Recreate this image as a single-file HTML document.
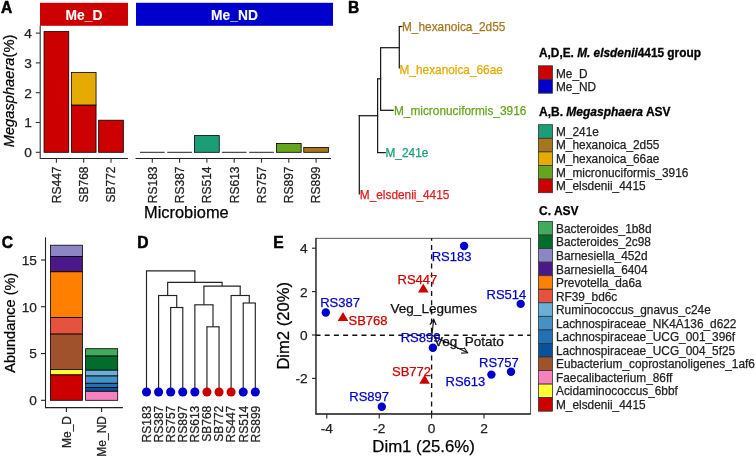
<!DOCTYPE html><html><head><meta charset="utf-8"><style>
html,body{margin:0;padding:0;background:#fff;width:756px;height:457px;overflow:hidden}
svg{display:block;will-change:transform}
text{font-family:"Liberation Sans",Arial,sans-serif;}
.b{font-weight:bold}
</style></head><body>
<svg width="756" height="457" viewBox="0 0 756 457">
<text x="1.00" y="12.80" font-size="15.6" fill="#000" stroke="#000" stroke-width="0.5" text-anchor="start" class="b" >A</text>
<rect x="40.00" y="2.80" width="88.00" height="23.00" fill="#CD0000" stroke="none" stroke-width="0.8"/>
<rect x="136.00" y="2.80" width="197.00" height="23.00" fill="#0000CD" stroke="none" stroke-width="0.8"/>
<text x="84.00" y="19.90" font-size="13.8" fill="#fff" stroke="#fff" stroke-width="0.1" text-anchor="middle" class="b" >Me_D</text>
<text x="234.50" y="19.90" font-size="13.8" fill="#fff" stroke="#fff" stroke-width="0.1" text-anchor="middle" class="b" >Me_ND</text>
<line x1="40.20" y1="25.50" x2="40.20" y2="159.00" stroke="#333333" stroke-width="1.1" />
<line x1="40.20" y1="158.50" x2="128.00" y2="158.50" stroke="#222" stroke-width="1.1" />
<line x1="135.50" y1="158.50" x2="331.00" y2="158.50" stroke="#222" stroke-width="1.1" />
<line x1="35.80" y1="152.30" x2="40.20" y2="152.30" stroke="#333333" stroke-width="1.1" />
<text x="31.80" y="157.20" font-size="13.7" fill="#222" stroke="#222" stroke-width="0.25" text-anchor="end" >0</text>
<line x1="35.80" y1="122.50" x2="40.20" y2="122.50" stroke="#333333" stroke-width="1.1" />
<text x="31.80" y="127.40" font-size="13.7" fill="#222" stroke="#222" stroke-width="0.25" text-anchor="end" >1</text>
<line x1="35.80" y1="92.70" x2="40.20" y2="92.70" stroke="#333333" stroke-width="1.1" />
<text x="31.80" y="97.60" font-size="13.7" fill="#222" stroke="#222" stroke-width="0.25" text-anchor="end" >2</text>
<line x1="35.80" y1="62.90" x2="40.20" y2="62.90" stroke="#333333" stroke-width="1.1" />
<text x="31.80" y="67.80" font-size="13.7" fill="#222" stroke="#222" stroke-width="0.25" text-anchor="end" >3</text>
<line x1="35.80" y1="33.10" x2="40.20" y2="33.10" stroke="#333333" stroke-width="1.1" />
<text x="31.80" y="38.00" font-size="13.7" fill="#222" stroke="#222" stroke-width="0.25" text-anchor="end" >4</text>
<rect x="44.05" y="31.60" width="24.70" height="120.70" fill="#CD0000" stroke="#000" stroke-width="0.8"/>
<rect x="71.35" y="105.00" width="24.70" height="47.30" fill="#CD0000" stroke="#000" stroke-width="0.8"/>
<rect x="71.35" y="72.40" width="24.70" height="32.60" fill="#E6AB02" stroke="#000" stroke-width="0.8"/>
<rect x="98.65" y="120.20" width="24.70" height="32.10" fill="#CD0000" stroke="#000" stroke-width="0.8"/>
<line x1="139.95" y1="152.30" x2="164.65" y2="152.30" stroke="#222" stroke-width="1" />
<line x1="167.25" y1="152.30" x2="191.95" y2="152.30" stroke="#222" stroke-width="1" />
<rect x="194.55" y="135.60" width="24.70" height="16.70" fill="#1B9E77" stroke="#000" stroke-width="0.8"/>
<line x1="221.85" y1="152.30" x2="246.55" y2="152.30" stroke="#222" stroke-width="1" />
<line x1="249.15" y1="152.30" x2="273.85" y2="152.30" stroke="#222" stroke-width="1" />
<rect x="276.45" y="143.40" width="24.70" height="8.90" fill="#66A61E" stroke="#000" stroke-width="0.8"/>
<rect x="303.75" y="147.40" width="24.70" height="4.90" fill="#A6761D" stroke="#000" stroke-width="0.8"/>
<line x1="56.40" y1="158.50" x2="56.40" y2="162.70" stroke="#333333" stroke-width="1.1" />
<text x="60.70" y="166.50" font-size="12" fill="#222" stroke="#222" stroke-width="0.25" text-anchor="end" transform="rotate(-90 60.70 166.50)">RS447</text>
<line x1="83.70" y1="158.50" x2="83.70" y2="162.70" stroke="#333333" stroke-width="1.1" />
<text x="88.00" y="166.50" font-size="12" fill="#222" stroke="#222" stroke-width="0.25" text-anchor="end" transform="rotate(-90 88.00 166.50)">SB768</text>
<line x1="111.00" y1="158.50" x2="111.00" y2="162.70" stroke="#333333" stroke-width="1.1" />
<text x="115.30" y="166.50" font-size="12" fill="#222" stroke="#222" stroke-width="0.25" text-anchor="end" transform="rotate(-90 115.30 166.50)">SB772</text>
<line x1="152.30" y1="158.50" x2="152.30" y2="162.70" stroke="#333333" stroke-width="1.1" />
<text x="156.60" y="166.50" font-size="12" fill="#222" stroke="#222" stroke-width="0.25" text-anchor="end" transform="rotate(-90 156.60 166.50)">RS183</text>
<line x1="179.60" y1="158.50" x2="179.60" y2="162.70" stroke="#333333" stroke-width="1.1" />
<text x="183.90" y="166.50" font-size="12" fill="#222" stroke="#222" stroke-width="0.25" text-anchor="end" transform="rotate(-90 183.90 166.50)">RS387</text>
<line x1="206.90" y1="158.50" x2="206.90" y2="162.70" stroke="#333333" stroke-width="1.1" />
<text x="211.20" y="166.50" font-size="12" fill="#222" stroke="#222" stroke-width="0.25" text-anchor="end" transform="rotate(-90 211.20 166.50)">RS514</text>
<line x1="234.20" y1="158.50" x2="234.20" y2="162.70" stroke="#333333" stroke-width="1.1" />
<text x="238.50" y="166.50" font-size="12" fill="#222" stroke="#222" stroke-width="0.25" text-anchor="end" transform="rotate(-90 238.50 166.50)">RS613</text>
<line x1="261.50" y1="158.50" x2="261.50" y2="162.70" stroke="#333333" stroke-width="1.1" />
<text x="265.80" y="166.50" font-size="12" fill="#222" stroke="#222" stroke-width="0.25" text-anchor="end" transform="rotate(-90 265.80 166.50)">RS757</text>
<line x1="288.80" y1="158.50" x2="288.80" y2="162.70" stroke="#333333" stroke-width="1.1" />
<text x="293.10" y="166.50" font-size="12" fill="#222" stroke="#222" stroke-width="0.25" text-anchor="end" transform="rotate(-90 293.10 166.50)">RS897</text>
<line x1="316.10" y1="158.50" x2="316.10" y2="162.70" stroke="#333333" stroke-width="1.1" />
<text x="320.40" y="166.50" font-size="12" fill="#222" stroke="#222" stroke-width="0.25" text-anchor="end" transform="rotate(-90 320.40 166.50)">RS899</text>
<text x="186.40" y="218.20" font-size="16.4" fill="#000" stroke="#000" stroke-width="0.25" text-anchor="middle" >Microbiome</text>
<text x="14.2" y="91" font-size="14.7" fill="#000" stroke="#000" stroke-width="0.25" text-anchor="middle" transform="rotate(-90 14.2 91)"><tspan font-style="italic">Megasphaera</tspan><tspan>(%)</tspan></text>
<text x="348.00" y="13.00" font-size="15.6" fill="#000" stroke="#000" stroke-width="0.5" text-anchor="start" class="b" >B</text>
<line x1="399.30" y1="26.30" x2="399.30" y2="68.50" stroke="#1a1a1a" stroke-width="1.25" />
<line x1="398.70" y1="26.50" x2="402.50" y2="26.50" stroke="#1a1a1a" stroke-width="1.25" />
<line x1="380.60" y1="47.70" x2="399.90" y2="47.70" stroke="#1a1a1a" stroke-width="1.25" />
<line x1="380.60" y1="47.10" x2="380.60" y2="110.30" stroke="#1a1a1a" stroke-width="1.25" />
<line x1="380.00" y1="110.30" x2="393.80" y2="110.30" stroke="#1a1a1a" stroke-width="1.25" />
<line x1="377.60" y1="78.80" x2="381.20" y2="78.80" stroke="#1a1a1a" stroke-width="1.25" />
<line x1="377.60" y1="78.20" x2="377.60" y2="152.60" stroke="#1a1a1a" stroke-width="1.25" />
<line x1="377.00" y1="152.60" x2="385.80" y2="152.60" stroke="#1a1a1a" stroke-width="1.25" />
<line x1="358.70" y1="115.70" x2="378.20" y2="115.70" stroke="#1a1a1a" stroke-width="1.25" />
<line x1="359.30" y1="115.10" x2="359.30" y2="194.50" stroke="#1a1a1a" stroke-width="1.25" />
<text x="402.00" y="30.60" font-size="11.85" fill="#A6761D" stroke="#A6761D" stroke-width="0.25" text-anchor="start" >M_hexanoica_2d55</text>
<text x="399.50" y="73.50" font-size="11.85" fill="#E6AB02" stroke="#E6AB02" stroke-width="0.25" text-anchor="start" >M_hexanoica_66ae</text>
<text x="394.00" y="114.90" font-size="11.85" fill="#66A61E" stroke="#66A61E" stroke-width="0.25" text-anchor="start" >M_micronuciformis_3916</text>
<text x="385.50" y="157.20" font-size="11.85" fill="#1B9E77" stroke="#1B9E77" stroke-width="0.25" text-anchor="start" >M_241e</text>
<text x="359.80" y="199.30" font-size="11.85" fill="#E31A1C" stroke="#E31A1C" stroke-width="0.25" text-anchor="start" >M_elsdenii_4415</text>
<text x="539" y="57.4" font-size="11.85" font-weight="bold" fill="#000" stroke="#000" stroke-width="0.3">A,D,E. <tspan font-style="italic">M. elsdenii</tspan>4415 group</text>
<rect x="538.50" y="65.80" width="14.00" height="13.60" fill="#CD0000" stroke="#333" stroke-width="0.8"/>
<rect x="538.50" y="79.40" width="14.00" height="13.80" fill="#0000CD" stroke="#333" stroke-width="0.8"/>
<text x="556.00" y="77.60" font-size="11.85" fill="#222" stroke="#222" stroke-width="0.25" text-anchor="start" >Me_D</text>
<text x="556.00" y="91.00" font-size="11.85" fill="#222" stroke="#222" stroke-width="0.25" text-anchor="start" >Me_ND</text>
<text x="539" y="115.7" font-size="12" font-weight="bold" fill="#000" stroke="#000" stroke-width="0.3">A,B. <tspan font-style="italic">Megasphaera</tspan> ASV</text>
<rect x="538.50" y="124.70" width="14.00" height="13.60" fill="#1B9E77" stroke="#333" stroke-width="0.8"/>
<text x="556.00" y="135.80" font-size="11.85" fill="#222" stroke="#222" stroke-width="0.25" text-anchor="start" >M_241e</text>
<rect x="538.50" y="138.30" width="14.00" height="13.60" fill="#A6761D" stroke="#333" stroke-width="0.8"/>
<text x="556.00" y="149.40" font-size="11.85" fill="#222" stroke="#222" stroke-width="0.25" text-anchor="start" >M_hexanoica_2d55</text>
<rect x="538.50" y="151.90" width="14.00" height="13.60" fill="#E6AB02" stroke="#333" stroke-width="0.8"/>
<text x="556.00" y="163.00" font-size="11.85" fill="#222" stroke="#222" stroke-width="0.25" text-anchor="start" >M_hexanoica_66ae</text>
<rect x="538.50" y="165.50" width="14.00" height="13.60" fill="#66A61E" stroke="#333" stroke-width="0.8"/>
<text x="556.00" y="176.60" font-size="11.85" fill="#222" stroke="#222" stroke-width="0.25" text-anchor="start" >M_micronuciformis_3916</text>
<rect x="538.50" y="179.10" width="14.00" height="13.60" fill="#CD0000" stroke="#333" stroke-width="0.8"/>
<text x="556.00" y="190.20" font-size="11.85" fill="#222" stroke="#222" stroke-width="0.25" text-anchor="start" >M_elsdenii_4415</text>
<text x="539.00" y="215.00" font-size="12" fill="#000" stroke="#000" stroke-width="0.25" text-anchor="start" class="b" >C. ASV</text>
<rect x="538.50" y="221.50" width="14.00" height="13.55" fill="#41AB5D" stroke="#333" stroke-width="0.8"/>
<text x="556.00" y="232.88" font-size="11.85" fill="#222" stroke="#222" stroke-width="0.25" text-anchor="start" >Bacteroides_1b8d</text>
<rect x="538.50" y="235.05" width="14.00" height="13.55" fill="#006D2C" stroke="#333" stroke-width="0.8"/>
<text x="556.00" y="246.43" font-size="11.85" fill="#222" stroke="#222" stroke-width="0.25" text-anchor="start" >Bacteroides_2c98</text>
<rect x="538.50" y="248.60" width="14.00" height="13.55" fill="#8C87C4" stroke="#333" stroke-width="0.8"/>
<text x="556.00" y="259.98" font-size="11.85" fill="#222" stroke="#222" stroke-width="0.25" text-anchor="start" >Barnesiella_452d</text>
<rect x="538.50" y="262.15" width="14.00" height="13.55" fill="#4A1889" stroke="#333" stroke-width="0.8"/>
<text x="556.00" y="273.53" font-size="11.85" fill="#222" stroke="#222" stroke-width="0.25" text-anchor="start" >Barnesiella_6404</text>
<rect x="538.50" y="275.70" width="14.00" height="13.55" fill="#FF7F00" stroke="#333" stroke-width="0.8"/>
<text x="556.00" y="287.08" font-size="11.85" fill="#222" stroke="#222" stroke-width="0.25" text-anchor="start" >Prevotella_da6a</text>
<rect x="538.50" y="289.25" width="14.00" height="13.55" fill="#E5533F" stroke="#333" stroke-width="0.8"/>
<text x="556.00" y="300.63" font-size="11.85" fill="#222" stroke="#222" stroke-width="0.25" text-anchor="start" >RF39_bd6c</text>
<rect x="538.50" y="302.80" width="14.00" height="13.55" fill="#6BAED6" stroke="#333" stroke-width="0.8"/>
<text x="556.00" y="314.18" font-size="11.85" fill="#222" stroke="#222" stroke-width="0.25" text-anchor="start" >Ruminococcus_gnavus_c24e</text>
<rect x="538.50" y="316.35" width="14.00" height="13.55" fill="#4292C6" stroke="#333" stroke-width="0.8"/>
<text x="556.00" y="327.73" font-size="11.85" fill="#222" stroke="#222" stroke-width="0.25" text-anchor="start" >Lachnospiraceae_NK4A136_d622</text>
<rect x="538.50" y="329.90" width="14.00" height="13.55" fill="#2171B5" stroke="#333" stroke-width="0.8"/>
<text x="556.00" y="341.28" font-size="11.85" fill="#222" stroke="#222" stroke-width="0.25" text-anchor="start" >Lachnospiraceae_UCG_001_396f</text>
<rect x="538.50" y="343.45" width="14.00" height="13.55" fill="#08519C" stroke="#333" stroke-width="0.8"/>
<text x="556.00" y="354.83" font-size="11.85" fill="#222" stroke="#222" stroke-width="0.25" text-anchor="start" >Lachnospiraceae_UCG_004_5f25</text>
<rect x="538.50" y="357.00" width="14.00" height="13.55" fill="#A0522D" stroke="#333" stroke-width="0.8"/>
<text x="556.00" y="368.38" font-size="11.85" fill="#222" stroke="#222" stroke-width="0.25" text-anchor="start" >Eubacterium_coprostanoligenes_1af6</text>
<rect x="538.50" y="370.55" width="14.00" height="13.55" fill="#F781BF" stroke="#333" stroke-width="0.8"/>
<text x="556.00" y="381.93" font-size="11.85" fill="#222" stroke="#222" stroke-width="0.25" text-anchor="start" >Faecalibacterium_86ff</text>
<rect x="538.50" y="384.10" width="14.00" height="13.55" fill="#FFFF33" stroke="#333" stroke-width="0.8"/>
<text x="556.00" y="395.48" font-size="11.85" fill="#222" stroke="#222" stroke-width="0.25" text-anchor="start" >Acidaminococcus_6bbf</text>
<rect x="538.50" y="397.65" width="14.00" height="13.55" fill="#CD0000" stroke="#333" stroke-width="0.8"/>
<text x="556.00" y="409.03" font-size="11.85" fill="#222" stroke="#222" stroke-width="0.25" text-anchor="start" >M_elsdenii_4415</text>
<text x="1.80" y="248.10" font-size="15.6" fill="#000" stroke="#000" stroke-width="0.5" text-anchor="start" class="b" >C</text>
<line x1="45.50" y1="237.30" x2="45.50" y2="408.10" stroke="#222" stroke-width="1.1" />
<line x1="45.00" y1="407.60" x2="122.90" y2="407.60" stroke="#222" stroke-width="1.1" />
<line x1="41.00" y1="400.30" x2="45.50" y2="400.30" stroke="#222" stroke-width="1.1" />
<text x="36.90" y="405.20" font-size="13.7" fill="#222" stroke="#222" stroke-width="0.25" text-anchor="end" >0</text>
<line x1="41.00" y1="353.54" x2="45.50" y2="353.54" stroke="#222" stroke-width="1.1" />
<text x="36.90" y="358.44" font-size="13.7" fill="#222" stroke="#222" stroke-width="0.25" text-anchor="end" >5</text>
<line x1="41.00" y1="306.77" x2="45.50" y2="306.77" stroke="#222" stroke-width="1.1" />
<text x="36.90" y="311.67" font-size="13.7" fill="#222" stroke="#222" stroke-width="0.25" text-anchor="end" >10</text>
<line x1="41.00" y1="260.00" x2="45.50" y2="260.00" stroke="#222" stroke-width="1.1" />
<text x="36.90" y="264.90" font-size="13.7" fill="#222" stroke="#222" stroke-width="0.25" text-anchor="end" >15</text>
<rect x="50.50" y="245.20" width="31.90" height="11.30" fill="#8C87C4" stroke="#000" stroke-width="0.8"/>
<rect x="50.50" y="256.50" width="31.90" height="15.30" fill="#4A1889" stroke="#000" stroke-width="0.8"/>
<rect x="50.50" y="271.80" width="31.90" height="45.70" fill="#FF7F00" stroke="#000" stroke-width="0.8"/>
<rect x="50.50" y="317.50" width="31.90" height="16.60" fill="#E5533F" stroke="#000" stroke-width="0.8"/>
<rect x="50.50" y="334.10" width="31.90" height="35.40" fill="#A0522D" stroke="#000" stroke-width="0.8"/>
<rect x="50.50" y="369.50" width="31.90" height="5.40" fill="#FFFF33" stroke="#000" stroke-width="0.8"/>
<rect x="50.50" y="374.90" width="31.90" height="25.40" fill="#CD0000" stroke="#000" stroke-width="0.8"/>
<rect x="85.60" y="348.70" width="32.10" height="7.40" fill="#41AB5D" stroke="#000" stroke-width="0.8"/>
<rect x="85.60" y="356.10" width="32.10" height="14.10" fill="#006D2C" stroke="#000" stroke-width="0.8"/>
<rect x="85.60" y="370.20" width="32.10" height="5.80" fill="#6BAED6" stroke="#000" stroke-width="0.8"/>
<rect x="85.60" y="376.00" width="32.10" height="7.30" fill="#4292C6" stroke="#000" stroke-width="0.8"/>
<rect x="85.60" y="383.30" width="32.10" height="4.20" fill="#2171B5" stroke="#000" stroke-width="0.8"/>
<rect x="85.60" y="387.50" width="32.10" height="3.80" fill="#08519C" stroke="#000" stroke-width="0.8"/>
<rect x="85.60" y="391.30" width="32.10" height="9.00" fill="#F781BF" stroke="#000" stroke-width="0.8"/>
<line x1="66.40" y1="407.60" x2="66.40" y2="412.00" stroke="#222" stroke-width="1.1" />
<text x="70.70" y="416.00" font-size="12" fill="#222" stroke="#222" stroke-width="0.25" text-anchor="end" transform="rotate(-90 70.70 416.00)">Me_D</text>
<line x1="101.60" y1="407.60" x2="101.60" y2="412.00" stroke="#222" stroke-width="1.1" />
<text x="105.90" y="416.00" font-size="12" fill="#222" stroke="#222" stroke-width="0.25" text-anchor="end" transform="rotate(-90 105.90 416.00)">Me_ND</text>
<text x="15.5" y="322.8" font-size="14.5" fill="#000" stroke="#000" stroke-width="0.25" text-anchor="middle" transform="rotate(-90 15.5 322.8)">Abundance (%)</text>
<text x="137.20" y="247.80" font-size="15.6" fill="#000" stroke="#000" stroke-width="0.5" text-anchor="start" class="b" >D</text>
<line x1="206.95" y1="392.00" x2="206.95" y2="326.80" stroke="#222" stroke-width="1.15" />
<line x1="219.04" y1="392.00" x2="219.04" y2="326.80" stroke="#222" stroke-width="1.15" />
<line x1="206.45" y1="326.80" x2="219.54" y2="326.80" stroke="#222" stroke-width="1.15" />
<line x1="194.86" y1="392.00" x2="194.86" y2="304.80" stroke="#222" stroke-width="1.15" />
<line x1="213.00" y1="326.80" x2="213.00" y2="304.80" stroke="#222" stroke-width="1.15" />
<line x1="194.36" y1="304.80" x2="213.50" y2="304.80" stroke="#222" stroke-width="1.15" />
<line x1="243.22" y1="392.00" x2="243.22" y2="303.00" stroke="#222" stroke-width="1.15" />
<line x1="255.31" y1="392.00" x2="255.31" y2="303.00" stroke="#222" stroke-width="1.15" />
<line x1="242.72" y1="303.00" x2="255.81" y2="303.00" stroke="#222" stroke-width="1.15" />
<line x1="231.13" y1="392.00" x2="231.13" y2="295.50" stroke="#222" stroke-width="1.15" />
<line x1="249.26" y1="303.00" x2="249.26" y2="295.50" stroke="#222" stroke-width="1.15" />
<line x1="230.63" y1="295.50" x2="249.76" y2="295.50" stroke="#222" stroke-width="1.15" />
<line x1="203.93" y1="304.80" x2="203.93" y2="286.10" stroke="#222" stroke-width="1.15" />
<line x1="240.20" y1="295.50" x2="240.20" y2="286.10" stroke="#222" stroke-width="1.15" />
<line x1="203.43" y1="286.10" x2="240.70" y2="286.10" stroke="#222" stroke-width="1.15" />
<line x1="170.68" y1="392.00" x2="170.68" y2="307.50" stroke="#222" stroke-width="1.15" />
<line x1="182.77" y1="392.00" x2="182.77" y2="307.50" stroke="#222" stroke-width="1.15" />
<line x1="170.18" y1="307.50" x2="183.27" y2="307.50" stroke="#222" stroke-width="1.15" />
<line x1="158.59" y1="392.00" x2="158.59" y2="295.50" stroke="#222" stroke-width="1.15" />
<line x1="176.72" y1="307.50" x2="176.72" y2="295.50" stroke="#222" stroke-width="1.15" />
<line x1="158.09" y1="295.50" x2="177.22" y2="295.50" stroke="#222" stroke-width="1.15" />
<line x1="167.66" y1="295.50" x2="167.66" y2="282.40" stroke="#222" stroke-width="1.15" />
<line x1="222.06" y1="286.10" x2="222.06" y2="282.40" stroke="#222" stroke-width="1.15" />
<line x1="167.16" y1="282.40" x2="222.56" y2="282.40" stroke="#222" stroke-width="1.15" />
<line x1="146.50" y1="392.00" x2="146.50" y2="270.80" stroke="#222" stroke-width="1.15" />
<line x1="194.86" y1="282.40" x2="194.86" y2="270.80" stroke="#222" stroke-width="1.15" />
<line x1="146.00" y1="270.80" x2="195.36" y2="270.80" stroke="#222" stroke-width="1.15" />
<circle cx="146.50" cy="392" r="4.55" fill="#0000CD"/>
<text x="150.80" y="405.70" font-size="12" fill="#222" stroke="#222" stroke-width="0.25" text-anchor="end" transform="rotate(-90 150.80 405.70)">RS183</text>
<circle cx="158.59" cy="392" r="4.55" fill="#0000CD"/>
<text x="162.89" y="405.70" font-size="12" fill="#222" stroke="#222" stroke-width="0.25" text-anchor="end" transform="rotate(-90 162.89 405.70)">RS387</text>
<circle cx="170.68" cy="392" r="4.55" fill="#0000CD"/>
<text x="174.98" y="405.70" font-size="12" fill="#222" stroke="#222" stroke-width="0.25" text-anchor="end" transform="rotate(-90 174.98 405.70)">RS757</text>
<circle cx="182.77" cy="392" r="4.55" fill="#0000CD"/>
<text x="187.07" y="405.70" font-size="12" fill="#222" stroke="#222" stroke-width="0.25" text-anchor="end" transform="rotate(-90 187.07 405.70)">RS897</text>
<circle cx="194.86" cy="392" r="4.55" fill="#0000CD"/>
<text x="199.16" y="405.70" font-size="12" fill="#222" stroke="#222" stroke-width="0.25" text-anchor="end" transform="rotate(-90 199.16 405.70)">RS613</text>
<circle cx="206.95" cy="392" r="4.55" fill="#CD0000"/>
<text x="211.25" y="405.70" font-size="12" fill="#222" stroke="#222" stroke-width="0.25" text-anchor="end" transform="rotate(-90 211.25 405.70)">SB768</text>
<circle cx="219.04" cy="392" r="4.55" fill="#CD0000"/>
<text x="223.34" y="405.70" font-size="12" fill="#222" stroke="#222" stroke-width="0.25" text-anchor="end" transform="rotate(-90 223.34 405.70)">SB772</text>
<circle cx="231.13" cy="392" r="4.55" fill="#CD0000"/>
<text x="235.43" y="405.70" font-size="12" fill="#222" stroke="#222" stroke-width="0.25" text-anchor="end" transform="rotate(-90 235.43 405.70)">RS447</text>
<circle cx="243.22" cy="392" r="4.55" fill="#0000CD"/>
<text x="247.52" y="405.70" font-size="12" fill="#222" stroke="#222" stroke-width="0.25" text-anchor="end" transform="rotate(-90 247.52 405.70)">RS514</text>
<circle cx="255.31" cy="392" r="4.55" fill="#0000CD"/>
<text x="259.61" y="405.70" font-size="12" fill="#222" stroke="#222" stroke-width="0.25" text-anchor="end" transform="rotate(-90 259.61 405.70)">RS899</text>
<text x="273.20" y="248.30" font-size="15.6" fill="#000" stroke="#000" stroke-width="0.5" text-anchor="start" class="b" >E</text>
<rect x="315.90" y="238.30" width="214.70" height="175.70" fill="none" stroke="#444" stroke-width="0.9"/>
<line x1="316.00" y1="238.00" x2="316.00" y2="414.50" stroke="#333" stroke-width="1.3" />
<line x1="315.50" y1="414.00" x2="530.60" y2="414.00" stroke="#333" stroke-width="1.3" />
<line x1="431.60" y1="238.30" x2="431.60" y2="414.00" stroke="#111" stroke-width="1.35" stroke-dasharray="5,4.2" stroke-dashoffset="2.5"/>
<line x1="316.00" y1="335.20" x2="530.60" y2="335.20" stroke="#111" stroke-width="1.35" stroke-dasharray="5,4.2" stroke-dashoffset="0.5"/>
<line x1="326.80" y1="414.00" x2="326.80" y2="418.60" stroke="#222" stroke-width="1.1" />
<text x="326.80" y="433.30" font-size="13.7" fill="#222" stroke="#222" stroke-width="0.25" text-anchor="middle" >-4</text>
<line x1="379.20" y1="414.00" x2="379.20" y2="418.60" stroke="#222" stroke-width="1.1" />
<text x="379.20" y="433.30" font-size="13.7" fill="#222" stroke="#222" stroke-width="0.25" text-anchor="middle" >-2</text>
<line x1="431.60" y1="414.00" x2="431.60" y2="418.60" stroke="#222" stroke-width="1.1" />
<text x="431.60" y="433.30" font-size="13.7" fill="#222" stroke="#222" stroke-width="0.25" text-anchor="middle" >0</text>
<line x1="484.00" y1="414.00" x2="484.00" y2="418.60" stroke="#222" stroke-width="1.1" />
<text x="484.00" y="433.30" font-size="13.7" fill="#222" stroke="#222" stroke-width="0.25" text-anchor="middle" >2</text>
<line x1="312.00" y1="378.40" x2="316.00" y2="378.40" stroke="#222" stroke-width="1.1" />
<text x="307.60" y="383.30" font-size="13.7" fill="#222" stroke="#222" stroke-width="0.25" text-anchor="end" >-2</text>
<line x1="312.00" y1="335.00" x2="316.00" y2="335.00" stroke="#222" stroke-width="1.1" />
<text x="307.60" y="339.90" font-size="13.7" fill="#222" stroke="#222" stroke-width="0.25" text-anchor="end" >0</text>
<line x1="312.00" y1="291.60" x2="316.00" y2="291.60" stroke="#222" stroke-width="1.1" />
<text x="307.60" y="296.50" font-size="13.7" fill="#222" stroke="#222" stroke-width="0.25" text-anchor="end" >2</text>
<line x1="312.00" y1="248.20" x2="316.00" y2="248.20" stroke="#222" stroke-width="1.1" />
<text x="307.60" y="253.10" font-size="13.7" fill="#222" stroke="#222" stroke-width="0.25" text-anchor="end" >4</text>
<text x="423.60" y="452.40" font-size="16.8" fill="#000" stroke="#000" stroke-width="0.25" text-anchor="middle" >Dim1 (25.6%)</text>
<text x="288.6" y="325.8" font-size="16.6" fill="#000" stroke="#000" stroke-width="0.25" text-anchor="middle" transform="rotate(-90 288.6 325.8)">Dim2 (20%)</text>
<defs><marker id="ah" markerWidth="9" markerHeight="9" refX="5.6" refY="3.7" orient="auto" markerUnits="userSpaceOnUse"><path d="M0,0.5 L5.6,3.7 L0,6.9" fill="none" stroke="#111" stroke-width="1.15"/></marker></defs>
<line x1="431.9" y1="334.8" x2="433.7" y2="319.4" stroke="#111" stroke-width="1.15" marker-end="url(#ah)"/>
<line x1="431.9" y1="335.2" x2="467.6" y2="352.8" stroke="#111" stroke-width="1.15" marker-end="url(#ah)"/>
<circle cx="464.1" cy="246" r="4.2" fill="#0000CD"/>
<circle cx="325.8" cy="312.5" r="4.2" fill="#0000CD"/>
<circle cx="520.7" cy="303.9" r="4.2" fill="#0000CD"/>
<circle cx="432.9" cy="347.7" r="4.2" fill="#0000CD"/>
<circle cx="381.8" cy="406.8" r="4.2" fill="#0000CD"/>
<circle cx="491.4" cy="374.6" r="4.2" fill="#0000CD"/>
<circle cx="511" cy="371.8" r="4.2" fill="#0000CD"/>
<path d="M418.00,292.60 L428.60,292.60 L423.30,283.50 Z" fill="#CD0000"/>
<path d="M337.70,321.10 L348.30,321.10 L343.00,312.00 Z" fill="#CD0000"/>
<path d="M419.30,383.80 L429.90,383.80 L424.60,374.70 Z" fill="#CD0000"/>
<text x="431.70" y="260.60" font-size="13.0" fill="#0000CD" stroke="#0000CD" stroke-width="0.25" text-anchor="start" >RS183</text>
<text x="320.20" y="307.20" font-size="13.0" fill="#0000CD" stroke="#0000CD" stroke-width="0.25" text-anchor="start" >RS387</text>
<text x="486.50" y="299.00" font-size="13.0" fill="#0000CD" stroke="#0000CD" stroke-width="0.25" text-anchor="start" >RS514</text>
<text x="400.70" y="342.20" font-size="13.0" fill="#0000CD" stroke="#0000CD" stroke-width="0.25" text-anchor="start" >RS899</text>
<text x="349.30" y="401.00" font-size="13.0" fill="#0000CD" stroke="#0000CD" stroke-width="0.25" text-anchor="start" >RS897</text>
<text x="445.50" y="385.60" font-size="13.0" fill="#0000CD" stroke="#0000CD" stroke-width="0.25" text-anchor="start" >RS613</text>
<text x="479.00" y="366.50" font-size="13.0" fill="#0000CD" stroke="#0000CD" stroke-width="0.25" text-anchor="start" >RS757</text>
<text x="397.50" y="283.60" font-size="13.0" fill="#CD0000" stroke="#CD0000" stroke-width="0.25" text-anchor="start" >RS447</text>
<text x="348.50" y="324.60" font-size="13.0" fill="#CD0000" stroke="#CD0000" stroke-width="0.25" text-anchor="start" >SB768</text>
<text x="392.00" y="375.80" font-size="13.0" fill="#CD0000" stroke="#CD0000" stroke-width="0.25" text-anchor="start" >SB772</text>
<text x="390.60" y="312.70" font-size="13.5" fill="#111" stroke="#111" stroke-width="0.25" text-anchor="start" >Veg_Legumes</text>
<text x="434.00" y="346.20" font-size="13.5" fill="#111" stroke="#111" stroke-width="0.25" text-anchor="start" >Veg_Potato</text>
</svg></body></html>
